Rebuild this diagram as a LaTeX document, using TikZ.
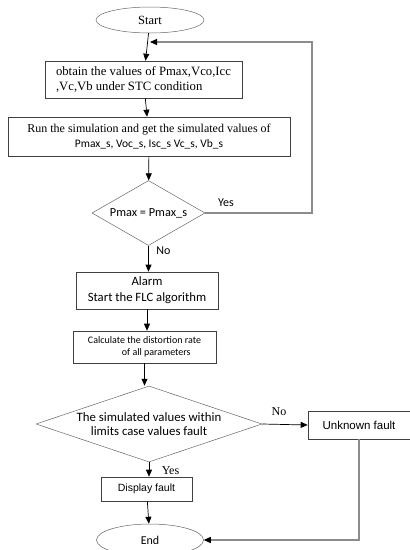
\documentclass[tikz,border=0pt]{standalone}
\usepackage{fontspec}
\setmainfont{Liberation Serif}
\newfontfamily\calib{Carlito}
\newfontfamily\arial{Liberation Sans}
\usetikzlibrary{shapes.geometric, arrows.meta}

\begin{document}
\begin{tikzpicture}[x=1pt, y=-1pt, >={Triangle[length=7pt,width=6pt]},
  box/.style={draw=black!75, line width=0.6pt, rectangle, inner sep=2pt},
  term/.style={draw=black!60, line width=0.5pt, ellipse, inner sep=0pt},
  cond/.style={draw=black!60, line width=0.5pt, diamond, inner sep=0pt},
  flow/.style={->, line width=0.7pt},
  back/.style={-{Triangle[length=7pt,width=6pt,color=black]}, black!45, line width=1.1pt}]
\useasboundingbox (0,0) rectangle (410,550);
%\draw[help lines, step=10] (0,0) grid (410,550);

\node [term, minimum width=108, minimum height=26, font=\fontsize{12.5}{14}\selectfont] (start) at (150,20) {Start};
\node [box, minimum width=197, minimum height=37, align=left, font=\fontsize{12.7}{14.5}\selectfont] (obtain) at (143.5,79.5)
  {obtain the values of Pmax,Vco,Icc\\,Vc,Vb under STC condition};
\node [box, minimum width=282, minimum height=39, align=center, font=\fontsize{12}{15}\selectfont] (run) at (149,136.5)
  {Run the simulation and get the simulated values of\\{\calib\fontsize{11.5}{15}\selectfont Pmax\_s, Voc\_s, Isc\_s Vc\_s, Vb\_s}};
\node [cond, aspect=1.74, minimum width=113, minimum height=65, font=\calib\fontsize{12.3}{14}\selectfont] (pmax) at (148.5,213) {Pmax = Pmax\_s};
\node [box, minimum width=142, minimum height=37, align=center, font=\calib\fontsize{12.7}{16}\selectfont] (alarm) at (147,290.5)
  {Alarm\\Start the FLC algorithm};
\node [box, minimum width=143, minimum height=32, align=left, font=\calib\fontsize{10}{11.5}\selectfont] (calc) at (144.5,347)
  {Calculate the distortion rate\\\hspace*{34pt}of all parameters};
\node [cond, aspect=3, minimum width=226, minimum height=76, align=center, font=\calib\fontsize{12.8}{14.5}\selectfont] (within) at (149,424)
  {The simulated values within\\limits case values fault};
\node [box, minimum width=102, minimum height=28, font=\arial\fontsize{11.5}{13}\selectfont] (unknown) at (359,425) {Unknown fault};
\node [box, minimum width=91, minimum height=24, font=\arial\fontsize{10.5}{12}\selectfont] (display) at (146.5,489) {Display fault};
\node [term, minimum width=107, minimum height=32, font=\calib\fontsize{12}{14}\selectfont] (end) at (150,540) {End};

% labels
\node [font=\calib\fontsize{12}{14}\selectfont] (yes1) at (226,203) {Yes};
\node [font=\calib\fontsize{12}{14}\selectfont] (no1) at (163.5,250.5) {No};
\node [font=\fontsize{12}{14}\selectfont] (no2) at (279,412) {No};
\node [font=\fontsize{12}{14}\selectfont] (yes2) at (170.5,470.5) {Yes};

\coordinate (corner) at (312,42);
\coordinate (rejoin) at (150,42);

\draw [flow] (start) -- (obtain);
\draw [flow] (obtain) -- (run);
\draw [flow] (run) -- (pmax);
\draw [back] (pmax.east) -| (corner) -- (rejoin);
\draw [flow] (pmax.south) -- (pmax.south |- alarm.north);
\draw [flow] (alarm.south) -- (alarm.south |- calc.north);
\draw [flow] (calc.south) -- (calc.south |- within.north);
\draw [flow] (within.east) -- (unknown.west);
\draw [flow] (within.south) -- (within.south |- display.north);
\draw [flow] (display) -- (end);
\draw [back] (unknown.south) |- (end.east);
\end{tikzpicture}
\end{document}
